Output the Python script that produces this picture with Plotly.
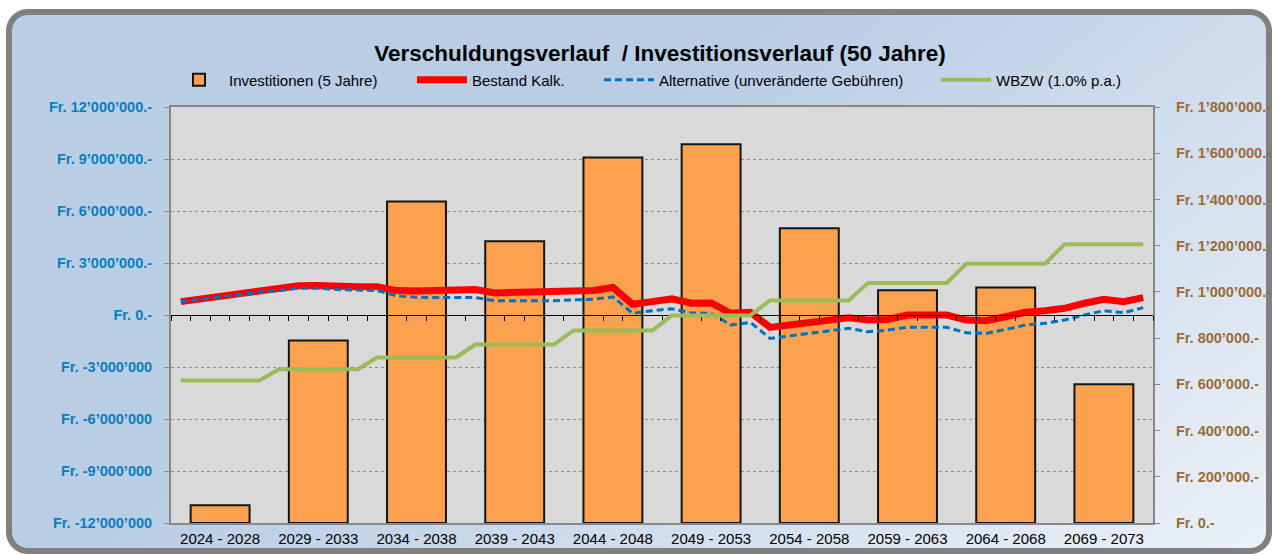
import base64
import struct
import zlib

import numpy as np
import plotly.graph_objects as go

# ---------------- data ----------------
periods = ["2024 - 2028", "2029 - 2033", "2034 - 2038", "2039 - 2043", "2044 - 2048",
           "2049 - 2053", "2054 - 2058", "2059 - 2063", "2064 - 2068", "2069 - 2073"]
investitionen = [77000, 790000, 1391000, 1219000, 1582000, 1639000, 1275000, 1007000, 1019000, 600000]

years = list(range(2024, 2074))
bestand_kalk = [771000, 928000, 1084000, 1258000, 1409000, 1507000, 1681000, 1699000, 1623000, 1623000,
                1623000, 1409000, 1391000, 1409000, 1449000, 1467000, 1275000, 1293000, 1293000, 1351000,
                1374000, 1409000, 1583000, 620000, 771000, 928000, 678000, 696000, 98000, 156000,
                -713000, -580000, -446000, -290000, -157000, -290000, -260000, 0, -40000, 0,
                -290000, -330000, -99000, 157000, 249000, 388000, 678000, 910000, 771000, 1003000]
alternative = [771000, 887000, 1026000, 1159000, 1316000, 1409000, 1548000, 1548000, 1467000, 1449000,
               1409000, 1100000, 1026000, 1003000, 1003000, 1003000, 829000, 829000, 812000, 829000,
               870000, 910000, 1043000, 99000, 249000, 359000, 116000, 100000, -580000, -423000,
               -1351000, -1217000, -1061000, -928000, -771000, -968000, -870000, -713000, -713000, -713000,
               -1026000, -1061000, -829000, -580000, -481000, -290000, 0, 249000, 133000, 423000]
wbzw = [617000, 617000, 617000, 617000, 617000, 665000, 665000, 665000, 665000, 665000,
        716000, 716000, 716000, 716000, 716000, 772000, 772000, 772000, 772000, 772000,
        833000, 833000, 833000, 833000, 833000, 898000, 898000, 898000, 898000, 898000,
        963000, 963000, 963000, 963000, 963000, 1039000, 1039000, 1039000, 1039000, 1039000,
        1122000, 1122000, 1122000, 1122000, 1122000, 1206000, 1206000, 1206000, 1206000, 1206000]

left_range = [-12000000, 12000000]
left_tickvals = [-12000000, -9000000, -6000000, -3000000, 0, 3000000, 6000000, 9000000, 12000000]
left_ticktext = ["Fr. -12’000’000", "Fr. -9’000’000", "Fr. -6’000’000", "Fr. -3’000’000", "Fr. 0.-",
                 "Fr. 3’000’000.-", "Fr. 6’000’000.-", "Fr. 9’000’000.-", "Fr. 12’000’000.-"]
right_range = [0, 1800000]
right_tickvals = [0, 200000, 400000, 600000, 800000, 1000000, 1200000, 1400000, 1600000, 1800000]
right_ticktext = ["Fr. 0.-", "Fr. 200’000.-", "Fr. 400’000.-", "Fr. 600’000.-", "Fr. 800’000.-",
                  "Fr. 1’000’000.-", "Fr. 1’200’000.-", "Fr. 1’400’000.-", "Fr. 1’600’000.-",
                  "Fr. 1’800’000.-"]

# ---------------- geometry / style ----------------
W, H = 1274, 554
ML, MR, MT, MB = 171, 121, 107, 31
PW, PH = W - ML - MR, H - MT - MB
FONT = "Liberation Sans, Arial, sans-serif"

# left-axis gridlines expressed on the right axis so that they are drawn beneath the bars
grid_on_right = [right_range[0] + (v - left_range[0]) / (left_range[1] - left_range[0])
                 * (right_range[1] - right_range[0]) for v in left_tickvals if v != 0]


def background_uri():
    yy, xx = np.mgrid[0:H, 0:W].astype(float) + 0.5

    def sdf(x0, y0, x1, y1, r):
        cx, cy = (x0 + x1) / 2, (y0 + y1) / 2
        hx, hy = (x1 - x0) / 2 - r, (y1 - y0) / 2 - r
        qx, qy = np.abs(xx - cx) - hx, np.abs(yy - cy) - hy
        return np.hypot(np.maximum(qx, 0), np.maximum(qy, 0)) + np.minimum(np.maximum(qx, qy), 0) - r

    d_out = sdf(6, 9, 1272, 554, 22)
    a_out = np.clip(0.5 - d_out, 0, 1)[..., None]
    a_in = np.clip(0.5 - (d_out + 6), 0, 1)[..., None]
    xn, yn = xx / W, yy / H
    t = np.clip((xn * 0.8 + yn * 0.45 - 0.5) / 0.75, 0, 1)[..., None]
    c0 = np.array([185, 205, 229], float)
    c1 = np.array([236, 241, 248], float)
    grad = c0 * (1 - t) + c1 * t
    white = np.array([255, 255, 255], float)
    gray = np.array([128, 128, 128], float)
    img = white * (1 - a_out) + gray * a_out
    img = img * (1 - a_in) + grad * a_in
    rgba = np.concatenate([img, np.full((H, W, 1), 255.0)], axis=2).round().astype(np.uint8)
    raw = b"".join(b"\x00" + rgba[r].tobytes() for r in range(H))

    def chunk(tag, data):
        return struct.pack(">I", len(data)) + tag + data + struct.pack(">I", zlib.crc32(tag + data) & 0xffffffff)

    png = (b"\x89PNG\r\n\x1a\n" + chunk(b"IHDR", struct.pack(">IIBBBBB", W, H, 8, 6, 0, 0, 0))
           + chunk(b"IDAT", zlib.compress(raw, 9)) + chunk(b"IEND", b""))
    return "data:image/png;base64," + base64.b64encode(png).decode()


fig = go.Figure()

fig.add_trace(go.Bar(
    x=periods, y=investitionen, name="Investitionen (5 Jahre)",
    xaxis="x", yaxis="y2",
    marker=dict(color="#FCA14E", line=dict(color="#141414", width=2)),
    legendwidth=178,
))
fig.add_trace(go.Scatter(
    x=years, y=bestand_kalk, name="Bestand Kalk.", mode="lines",
    xaxis="x2", yaxis="y",
    line=dict(color="#FF0000", width=7),
    legendwidth=122,
))
fig.add_trace(go.Scatter(
    x=years, y=alternative, name="Alternative (unveränderte Gebühren)", mode="lines",
    xaxis="x2", yaxis="y",
    line=dict(color="#0070C0", width=3, dash="7px,4px"),
    legendwidth=272,
))
fig.add_trace(go.Scatter(
    x=years, y=wbzw, name="WBZW (1.0% p.a.)", mode="lines",
    xaxis="x2", yaxis="y2",
    line=dict(color="#9BBB59", width=4),
    legendwidth=140,
))

boundaries = [y - 0.5 for y in years] + [years[-1] + 0.5]

fig.update_layout(
    width=W, height=H,
    margin=dict(l=ML, r=MR, t=MT, b=MB, pad=0, autoexpand=False),
    paper_bgcolor="white",
    plot_bgcolor="rgba(0,0,0,0)",
    font=dict(family=FONT, color="black"),
    bargap=0.4,
    showlegend=True,
    title=dict(
        text="<b>Verschuldungsverlauf \u00a0/ Investitionsverlauf (50 Jahre)</b>",
        x=660 / W, xref="container", xanchor="center",
        y=1 - 53 / H, yref="container", yanchor="middle",
        font=dict(family=FONT, size=22.5, color="black"),
    ),
    legend=dict(
        orientation="h", xref="paper", yref="paper",
        x=(169 - ML) / PW, xanchor="left", y=1 + (MT - 80) / PH, yanchor="middle",
        font=dict(family=FONT, size=15, color="black"),
        itemwidth=50, bgcolor="rgba(0,0,0,0)", borderwidth=0,
        traceorder="normal",
    ),
    xaxis=dict(
        type="category", range=[-0.5, 9.5],
        showline=True, linecolor="#888888", linewidth=2, mirror=True,
        showgrid=False, ticks="", zeroline=False,
        tickfont=dict(family=FONT, size=15, color="black"),
        ticklabelstandoff=1,
    ),
    xaxis2=dict(
        overlaying="x", anchor="free", position=0.5, side="bottom",
        range=[years[0] - 0.5, years[-1] + 0.5],
        showline=True, linecolor="black", linewidth=1.3,
        tickmode="array", tickvals=boundaries, ticks="outside", ticklen=5,
        tickcolor="black", tickwidth=1, showticklabels=False, showgrid=False, zeroline=False,
    ),
    yaxis=dict(
        range=left_range,
        tickmode="array", tickvals=left_tickvals, ticktext=left_ticktext,
        ticks="outside", ticklen=5, tickcolor="#888888", tickwidth=1,
        showline=True, linecolor="#888888", linewidth=2,
        showgrid=False, zeroline=False,
        tickfont=dict(family=FONT, size=14.5, color="#0B7DC1", weight="bold"),
        ticklabelstandoff=9,
    ),
    yaxis2=dict(
        overlaying="y", side="right", anchor="x",
        range=right_range,
        tickmode="array", tickvals=right_tickvals, ticktext=right_ticktext,
        ticks="outside", ticklen=5, tickcolor="#888888", tickwidth=1,
        showline=True, linecolor="#888888", linewidth=2,
        showgrid=False, zeroline=False,
        minor=dict(tickmode="array", tickvals=grid_on_right, showgrid=True,
                   gridcolor="#8c8c8c", griddash="dot", gridwidth=1, ticks=""),
        tickfont=dict(family=FONT, size=14.5, color="#9C6A35", weight="bold"),
        ticklabelstandoff=13,
    ),
    images=[dict(
        source=background_uri(), xref="paper", yref="paper",
        x=-ML / PW, y=1 + MT / PH, sizex=W / PW, sizey=H / PH,
        xanchor="left", yanchor="top", sizing="stretch", layer="below",
    )],
    shapes=[dict(
        type="rect", xref="paper", yref="paper", x0=0, x1=1, y0=0, y1=1,
        fillcolor="#D9D9D9", line=dict(width=0), layer="below",
    )],
)

fig.write_html(
    "out.html",
    config={"displayModeBar": False},
    post_script="document.body.style.margin='0';document.body.style.overflow='hidden';",
)
